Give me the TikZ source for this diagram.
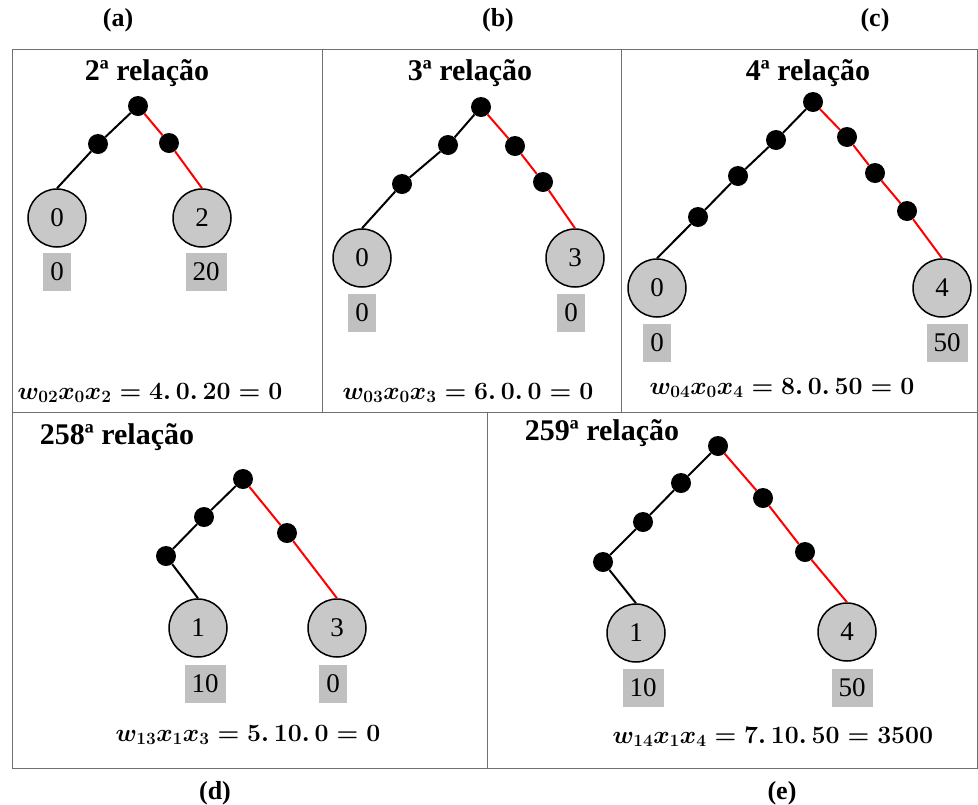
\documentclass[tikz,border=0pt]{standalone}
\usepackage{amsmath,amssymb}
\usepackage[no-math]{fontspec}
\setmainfont{Liberation Serif}
\usepackage{tikz}

\definecolor{leafgray}{RGB}{200,200,200}
\definecolor{boxgray}{RGB}{192,192,192}
\definecolor{framegray}{RGB}{112,112,112}

\begin{document}
\begin{tikzpicture}[x=1pt,y=-1pt,
    dot/.style={circle,fill=black,inner sep=0pt,minimum size=20pt},
    leaf/.style={circle,draw=black,fill=leafgray,line width=1.5pt,minimum size=58pt,inner sep=0pt,font=\fontsize{27}{30}\selectfont},
    valbox/.style={fill=boxgray,inner xsep=7pt,inner ysep=0pt,minimum height=38pt,font=\fontsize{27}{30}\selectfont},
    title/.style={font=\fontsize{30}{34}\selectfont\bfseries},
    lbl/.style={font=\fontsize{26}{30}\selectfont\bfseries},
    eq/.style={font=\fontsize{25}{28}\selectfont\boldmath},
    edge/.style={line width=2pt},
    redge/.style={edge,red},
    frame/.style={draw=framegray,line width=1pt}]
    \useasboundingbox (0,0) rectangle (978,804);

    % Panel frames
    \draw[frame] (12,49) rectangle (977,768);
    \draw[frame] (12,412) -- (977,412);
    \draw[frame] (322,49) -- (322,412);
    \draw[frame] (621,49) -- (621,412);
    \draw[frame] (487,412) -- (487,768);

    % Panel labels
    \node[lbl] (alabel) at (118,20) {(a)};
    \node[lbl] (blabel) at (498,20) {(b)};
    \node[lbl] (clabel) at (875,20) {(c)};
    \node[lbl] (dlabel) at (215,793) {(d)};
    \node[lbl] (elabel) at (782,793) {(e)};

    % (a) 2a relacao
    \node[title] (atitle) at (147,73) {2ª relação};
    \node[dot] (atop) at (138,106) {};
    \node[dot] (al1) at (98,144) {};
    \node[dot] (ar1) at (169,143) {};
    \node[leaf] (aleft) at (57,218) {0};
    \node[leaf] (aright) at (202,218) {2};
    \node[valbox] (avl) at (57,272) {0};
    \node[valbox] (avr) at (206,272) {20};
    \draw[edge] (atop) -- (al1) -- (aleft.north);
    \draw[redge] (atop) -- (ar1) -- (aright.north);
    \node[eq] (aeq) at (150,393) {$w_{02}x_0x_2 = 4.\,0.\,20 = 0$};

    % (b) 3a relacao
    \node[title] (btitle) at (470,73) {3ª relação};
    \node[dot] (btop) at (481,107) {};
    \node[dot] (bl1) at (448,145) {};
    \node[dot] (bl2) at (402,184) {};
    \node[dot] (br1) at (515,146) {};
    \node[dot] (br2) at (543,182) {};
    \node[leaf] (bleft) at (362,258) {0};
    \node[leaf] (bright) at (575,258) {3};
    \node[valbox] (bvl) at (362,313) {0};
    \node[valbox] (bvr) at (571,313) {0};
    \draw[edge] (btop) -- (bl1) -- (bl2) -- (bleft.north);
    \draw[redge] (btop) -- (br1) -- (br2) -- (bright.north);
    \node[eq] (beq) at (468,393) {$w_{03}x_0x_3 = 6.\,0.\,0 = 0$};

    % (c) 4a relacao
    \node[title] (ctitle) at (808,73) {4ª relação};
    \node[dot] (ctop) at (813,102) {};
    \node[dot] (cl1) at (776,140) {};
    \node[dot] (cl2) at (738,176) {};
    \node[dot] (cl3) at (698,217) {};
    \node[dot] (cr1) at (847,137) {};
    \node[dot] (cr2) at (875,173) {};
    \node[dot] (cr3) at (907,211) {};
    \node[leaf] (cleft) at (657,288) {0};
    \node[leaf] (cright) at (942,288) {4};
    \node[valbox] (cvl) at (657,343) {0};
    \node[valbox] (cvr) at (947,343) {50};
    \draw[edge] (ctop) -- (cl1) -- (cl2) -- (cl3) -- (cleft.north);
    \draw[redge] (ctop) -- (cr1) -- (cr2) -- (cr3) -- (cright.north);
    \node[eq] (ceq) at (782,388) {$w_{04}x_0x_4 = 8.\,0.\,50 = 0$};

    % (d) 258a relacao
    \node[title] (dtitle) at (117,437) {258ª relação};
    \node[dot] (dtop) at (243,479) {};
    \node[dot] (dl1) at (204,517) {};
    \node[dot] (dl2) at (166,556) {};
    \node[dot] (dr1) at (287,533) {};
    \node[leaf] (dleft) at (198,628) {1};
    \node[leaf] (dright) at (337,628) {3};
    \node[valbox] (dvl) at (205,684) {10};
    \node[valbox] (dvr) at (333,684) {0};
    \draw[edge] (dtop) -- (dl1) -- (dl2) -- (dleft.north);
    \draw[redge] (dtop) -- (dr1) -- (dright.north);
    \node[eq] (deq) at (248,735) {$w_{13}x_1x_3 = 5.\,10.\,0 = 0$};

    % (e) 259a relacao
    \node[title] (etitle) at (602,433) {259ª relação};
    \node[dot] (etop) at (718,446) {};
    \node[dot] (el1) at (681,483) {};
    \node[dot] (el2) at (643,522) {};
    \node[dot] (el3) at (603,562) {};
    \node[dot] (er1) at (763,498) {};
    \node[dot] (er2) at (805,552) {};
    \node[leaf] (eleft) at (636,633) {1};
    \node[leaf] (eright) at (847,632) {4};
    \node[valbox] (evl) at (643,688) {10};
    \node[valbox] (evr) at (852,688) {50};
    \draw[edge] (etop) -- (el1) -- (el2) -- (el3) -- (eleft.north);
    \draw[redge] (etop) -- (er1) -- (er2) -- (eright.north);
    \node[eq] (eeq) at (773,737) {$w_{14}x_1x_4 = 7.\,10.\,50 = 3500$};
\end{tikzpicture}
\end{document}
